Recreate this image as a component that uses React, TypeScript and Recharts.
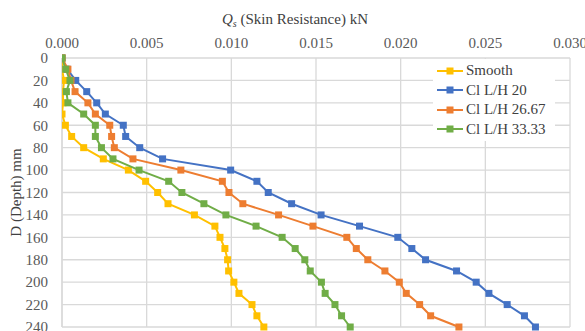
import React from "react";
import {
  ScatterChart,
  Scatter,
  XAxis,
  YAxis,
  CartesianGrid,
  Legend,
} from "recharts";

const depths = [0, 10, 20, 30, 40, 50, 60, 70, 80, 90, 100, 110, 120, 130, 140, 150, 160, 170, 180, 190, 200, 210, 220, 230, 240];

const smooth = [0, 0, 0.00012, 0.00006, 0.00006, 0, 0.0002, 0.00057, 0.00128, 0.00244, 0.00392, 0.00494, 0.00565, 0.00626, 0.00782, 0.00903, 0.00933, 0.00962, 0.00978, 0.00984, 0.01015, 0.01045, 0.01122, 0.01151, 0.01192];
const cl20 = [0, 0.0003, 0.00081, 0.00146, 0.00205, 0.00256, 0.00362, 0.00376, 0.00459, 0.00594, 0.00996, 0.01151, 0.01218, 0.01356, 0.0153, 0.01757, 0.01983, 0.02066, 0.02147, 0.0233, 0.02446, 0.02521, 0.02629, 0.02731, 0.02796];
const cl2667 = [0, 0.00035, 0.00053, 0.00077, 0.00153, 0.00197, 0.00282, 0.00293, 0.00309, 0.00419, 0.00702, 0.00947, 0.00986, 0.01068, 0.01279, 0.01482, 0.01682, 0.01738, 0.01806, 0.01907, 0.01992, 0.02033, 0.02112, 0.02177, 0.02344];
const cl3333 = [0, 0.00022, 0.00047, 0.00026, 0.00035, 0.00128, 0.00197, 0.00197, 0.00233, 0.00301, 0.00455, 0.0063, 0.00708, 0.00838, 0.00968, 0.01146, 0.013, 0.01377, 0.01434, 0.01466, 0.01532, 0.01554, 0.01612, 0.01651, 0.01702];

const xTicks = [0, 0.005, 0.01, 0.015, 0.02, 0.025, 0.03];
const yTicks = [0, 20, 40, 60, 80, 100, 120, 140, 160, 180, 200, 220, 240];

const seriesNames = ["Smooth", "Cl L/H 20", "Cl L/H 26.67", "Cl L/H 33.33"];
const seriesValues = [smooth, cl20, cl2667, cl3333];
const colors = ["#FFC000", "#4472C4", "#ED7D31", "#70AD47"];

const FONT = '"Times New Roman", "Liberation Serif", Tinos, "Noto Serif", "DejaVu Serif", serif';

const build = (vals: number[]) => depths.map((d, i) => ({ q: vals[i], d }));

const squareShape = (color: string) => (props: any) => {
  const { cx, cy } = props;
  if (cx == null || cy == null) return <g />;
  return <rect x={cx - 3.5} y={cy - 3.5} width={7} height={7} fill={color} />;
};

const renderLegend = () => (
  <div style={{ background: "#fff", padding: "2px 4px", fontFamily: FONT, fontSize: 15, color: "#404040" }}>
    {seriesNames.map((n, i) => (
      <div key={n} style={{ display: "flex", alignItems: "center", height: 19.5 }}>
        <svg width={28} height={10} style={{ marginRight: 1 }}>
          <line x1={0} y1={5} x2={26} y2={5} stroke={colors[i]} strokeWidth={2} />
          <rect x={9.5} y={1.5} width={7} height={7} fill={colors[i]} />
        </svg>
        <span>{n}</span>
      </div>
    ))}
  </div>
);

const TitleLabel = () => {
  return (
    <text x={295} y={24} textAnchor="middle" style={{ fontFamily: FONT }} fontSize={15} fill="#404040">
      <tspan fontStyle="italic">Q</tspan>
      <tspan fontStyle="italic" fontSize={10} dy={3}>s</tspan>
      <tspan dy={-3}> (Skin Resistance) kN</tspan>
    </text>
  );
};

export default function App() {
  return (
    <div style={{ position: "absolute", left: 0, top: 0, fontFamily: FONT }}>
      <ScatterChart width={585} height={331} margin={{ top: 0, right: 15, bottom: 4, left: 0 }} style={{ fontFamily: FONT }}>
        <CartesianGrid stroke="#d9d9d9" strokeWidth={1.3} />
        <XAxis
          type="number"
          dataKey="q"
          orientation="top"
          domain={[0, 0.03]}
          ticks={xTicks}
          interval={0}
          tickFormatter={(v: number) => v.toFixed(3)}
          height={58}
          axisLine={false}
          tickLine={false}
          tickSize={6}
          tickMargin={4}
          tick={{ style: { fontFamily: FONT }, fontSize: 15, fill: "#595959" }}
          label={<TitleLabel />}
          allowDataOverflow
        />
        <YAxis
          type="number"
          dataKey="d"
          domain={[0, 240]}
          ticks={yTicks}
          interval={0}
          reversed
          width={62}
          axisLine={{ stroke: "#d9d9d9", strokeWidth: 1.3 }}
          tickLine={false}
          tickSize={6}
          tickMargin={8}
          tick={{ style: { fontFamily: FONT }, fontSize: 15, fill: "#595959" }}
          label={{
            value: "D (Depth) mm",
            angle: -90,
            position: "insideLeft",
            offset: 16,
            style: { fontFamily: FONT, fontSize: 15, fill: "#404040", textAnchor: "middle" },
          }}
        />
        <Legend
          layout="vertical"
          align="center"
          verticalAlign="middle"
          content={renderLegend}
          wrapperStyle={{ left: 433, top: 59, width: 122, height: 80 }}
        />
        {seriesNames.map((n, i) => (
          <Scatter
            key={n}
            name={n}
            data={build(seriesValues[i])}
            fill={colors[i]}
            line={{ stroke: colors[i], strokeWidth: 2 }}
            shape={squareShape(colors[i])}
            isAnimationActive={false}
          />
        ))}
      </ScatterChart>
    </div>
  );
}
